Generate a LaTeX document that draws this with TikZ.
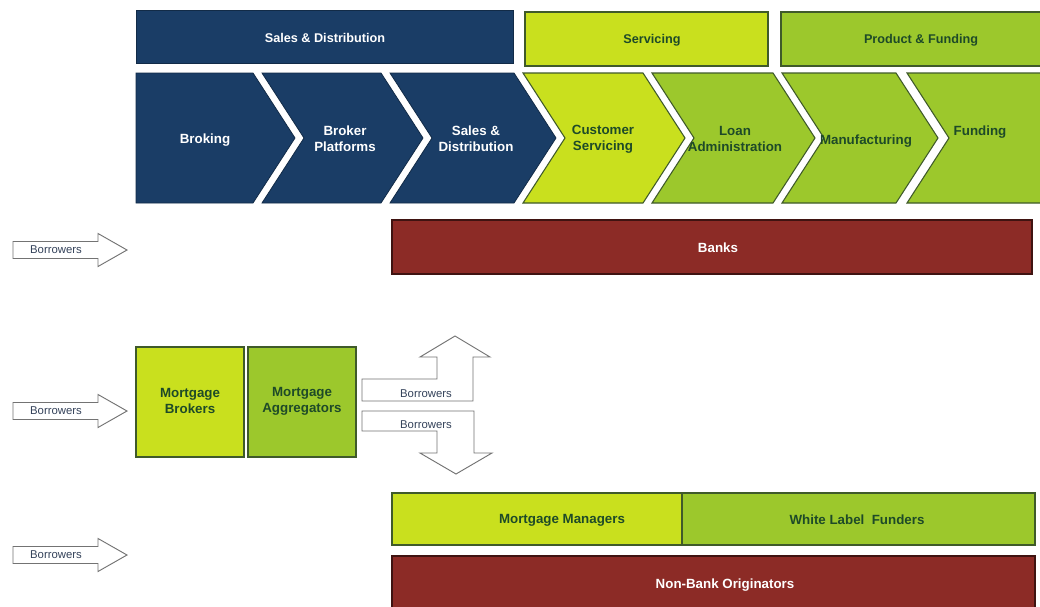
\documentclass[tikz,border=0pt]{standalone}
\usepackage{fontspec}
\setmainfont{Liberation Sans}
\definecolor{navy}{HTML}{1A3D66}
\definecolor{lime}{HTML}{C9E01E}
\definecolor{leaf}{HTML}{9CC82C}
\definecolor{brick}{HTML}{8C2B26}
\definecolor{ink}{HTML}{1E4A28}
\definecolor{edgegreen}{HTML}{3F5A2A}
\definecolor{arrowink}{HTML}{34425A}
\tikzset{
  navybox/.style={fill=navy, draw=navy!70!black, line width=0.6pt},
  limebox/.style={fill=lime, draw=edgegreen, line width=0.8pt},
  leafbox/.style={fill=leaf, draw=edgegreen, line width=0.8pt},
  brickbox/.style={fill=brick, draw=brick!45!black, line width=0.8pt},
  wlabel/.style={text=white, font=\bfseries\fontsize{10}{12}\selectfont, align=center},
  glabel/.style={text=ink, font=\bfseries\fontsize{10}{12}\selectfont, align=center},
  toplabel/.style={font=\bfseries\fontsize{9.5}{11}\selectfont, align=center},
  borrowshape/.style={draw=black!55, fill=white, line width=0.7pt, line join=miter},
  borrowtext/.style={text=arrowink, font=\fontsize{8.5}{10}\selectfont, inner sep=0pt}
}
% chevron between left edge #1 and right edge #2 (tip depth 42)
\newcommand{\chevpath}[2]{(#1,73) -- (#2,73) -- ++(42,65) -- (#2,203) -- (#1,203) -- ++(42,-65) -- cycle}
% right-pointing "Borrowers" arrow centred at height #1
\newcommand{\borrowpath}[1]{(13,#1-8.5) -- (98,#1-8.5) -- (98,#1-16.5) -- (127,#1) -- (98,#1+16.5) -- (98,#1+8.5) -- (13,#1+8.5) -- cycle}
\begin{document}
\begin{tikzpicture}[x=0.75pt,y=-0.75pt]
\useasboundingbox (0,0) rectangle (1040,607);
\clip (0,0) rectangle (1040,607);
\fill[white] (0,0) rectangle (1040,607);

% top segment headers
\draw[navybox] (136,10) rectangle (513,63);
\draw[limebox] (525,12) rectangle (768,66);
\draw[leafbox] (781,12) rectangle (1046,66);
\node[toplabel, text=white] (hdrsales) at (325,38) {Sales \& Distribution};
\node[toplabel, text=ink] (hdrserv) at (652,40) {Servicing};
\node[toplabel, text=ink] (hdrprod) at (921,40) {Product \& Funding};

% value chain
\draw[navybox] (136,73) -- (253,73) -- ++(42,65) -- (253,203) -- (136,203) -- cycle;
\draw[navybox] \chevpath{262}{381};
\draw[navybox] \chevpath{390}{514};
\draw[limebox] \chevpath{523}{643};
\draw[leafbox] \chevpath{652}{773};
\draw[leafbox] \chevpath{782}{896};
\draw[leafbox] (907,73) -- (1046,73) -- (1046,203) -- (907,203) -- ++(42,-65) -- cycle;
\node[wlabel] (broking) at (205,140) {Broking};
\node[wlabel] (platforms) at (345,139) {Broker\\Platforms};
\node[wlabel] (salesdist) at (476,139) {Sales \&\\Distribution};
\node[glabel] (custserv) at (603,139) {Customer\\Servicing};
\node[glabel] (loanadmin) at (735,139) {Loan\\Administration};
\node[glabel] (manuf) at (866,141) {Manufacturing};
\node[glabel] (funding) at (980,132) {Funding};

% banks
\draw[brickbox] (392,220) rectangle (1032,274);
\node[wlabel] (banks) at (718,248) {Banks};

% borrowers entry arrows
\draw[borrowshape] \borrowpath{250};
\draw[borrowshape] \borrowpath{411};
\draw[borrowshape] \borrowpath{555};
\node[borrowtext] (borrow1) at (56,250) {Borrowers};
\node[borrowtext] (borrow2) at (56,411) {Borrowers};
\node[borrowtext] (borrow3) at (56,555) {Borrowers};

% broker channel
\draw[limebox] (136,347) rectangle (244,457);
\draw[leafbox] (248,347) rectangle (356,457);
\node[glabel] (brokers) at (190,401) {Mortgage\\Brokers};
\node[glabel] (aggregators) at (302,401) {Mortgage\\Aggregators};

% bent arrows out of the aggregators
\draw[borrowshape] (362,379) -- (437,379) -- (437,357) -- (420,357) -- (455,336)
  -- (490,357) -- (473,357) -- (473,401) -- (362,401) -- cycle;
\draw[borrowshape] (362,411) -- (474,411) -- (474,453) -- (492,453) -- (456,474)
  -- (420,453) -- (437,453) -- (437,431) -- (362,431) -- cycle;
\node[borrowtext] (borrowup) at (426,394) {Borrowers};
\node[borrowtext] (borrowdown) at (426,425) {Borrowers};

% non-bank channel
\draw[limebox] (392,493) rectangle (682,545);
\draw[leafbox] (682,493) rectangle (1035,545);
\node[glabel] (managers) at (562,520) {Mortgage Managers};
\node[glabel] (whitelabel) at (857,520) {White Label\ \ Funders};
\draw[brickbox] (392,556) rectangle (1035,615);
\node[wlabel] (nonbank) at (725,585) {Non-Bank Originators};
\end{tikzpicture}
\end{document}
